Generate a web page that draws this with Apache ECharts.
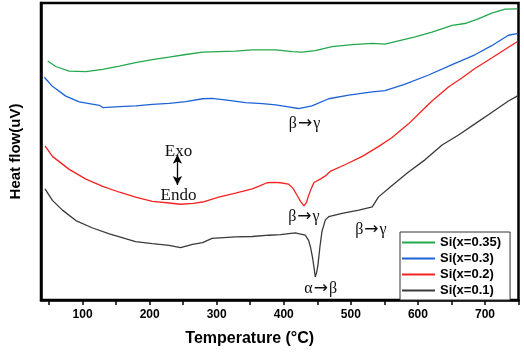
<!DOCTYPE html>
<html>
<head>
<meta charset="utf-8">
<script src="https://cdn.jsdelivr.net/npm/echarts@6/dist/echarts.min.js"></script>
<style>
html,body{margin:0;padding:0;background:#fff;}
#chart{width:524px;height:352px;}
</style>
</head>
<body>
<div id="chart"></div>
<script>
// Temperature (°C) and heat flow (arbitrary units)
var seriesNames = ['Si(x=0.35)', 'Si(x=0.3)', 'Si(x=0.2)', 'Si(x=0.1)'];

var tempSi035 = [48,60,80,105,130,155,179,204,229,254,279,303,328,353,378,388,413,427,447,472,502,532,551,571,596,621,651,670,690,710,730,748];
var heatSi035 = [244.7,239,234.3,233.7,236,239.3,243,246,248.7,251.3,253.7,254.3,254.7,256,256,256,254.3,253.7,255.3,259.3,261.3,262.7,262,265.3,269.3,274.3,281,283,287.7,293.7,297.7,298];

var tempSi03 = [43,55,75,95,125,130,155,179,204,229,254,279,293,318,343,368,388,407,422,442,467,497,532,551,581,616,651,685,710,735,748];
var heatSi03 = [228,218.7,208.7,202.7,199.3,197,198,198.7,200.3,201.3,203,206,206.3,204.3,202,201,199.7,197.7,196,198.7,206,209.7,213,214.3,221,230.3,241,251,260.3,271,272.7];

var tempSi02 = [44,55,80,105,130,155,179,204,229,246,265,279,303,328,353,365,375,385,395,407,414,420,425,430,434,437,441,445,455,462,470,492,517,541,561,586,601,621,646,665,685,710,735,748];
var heatSi02 = [157.7,147,133.7,123.7,116.3,110.3,105.3,101,99.3,98,99,100.3,105.3,109.3,113.7,117,120,120.5,120,118.7,114,107,101,96.3,100,107,114,120.3,124,127,132,138.7,147,157,166,180.3,190.3,203.7,218.2,227,237,247.7,258.7,264.3];

var tempSi01 = [44,55,70,90,115,140,164,179,204,229,246,264,279,293,328,353,378,395,417,432,437,440,443,445,447,449,451,454,457,462,467,487,512,532,541,561,586,611,636,660,685,710,735,748];
var heatSi01 = [113.7,102,92,81.3,73.7,67.7,62.7,59.7,57.7,56,53.7,57,58.7,63,64.7,65,66.3,67,68.7,66.3,61,53.7,43,33.7,23.7,28,36,55,70.3,82,85.3,88.7,92,95.3,105.3,117,131,143.7,158.7,168.7,180.3,192,203.7,208.7];

var xTickValues = [50,100,150,200,250,300,350,400,450,500,550,600,650,700,750];
var xLabelValues = [100,200,300,400,500,600,700];

// annotations: [from, to, temperature, heat flow]
var transitions = [
  ['β', 'γ', 431, 184.5],
  ['β', 'γ', 430, 89.5],
  ['β', 'γ', 530, 76.2],
  ['α', 'β', 455, 15.3]
];
var sideLabels = [
  ['Exo', 243, 156.2],
  ['Endo', 243, 111.2]
];
var exoEndoArrow = [[241.4, 148.7], [241.4, 117.7]];

var colors = ['#23a84e', '#1c63d6', '#f52222', '#3a3a3a'];
var temps = [tempSi035, tempSi03, tempSi02, tempSi01];
var heats = [heatSi035, heatSi03, heatSi02, heatSi01];

function pairs(t, h) { return t.map(function (v, i) { return [v, h[i]]; }); }

var series = seriesNames.map(function (name, i) {
  return {
    name: name,
    type: 'line',
    data: pairs(temps[i], heats[i]),
    showSymbol: false,
    symbol: 'none',
    smooth: false,
    lineStyle: { color: colors[i], width: 1.3 },
    itemStyle: { color: colors[i] },
    z: 2 + i
  };
});

var markData = transitions.map(function (a) {
  return {
    coord: [a[2], a[3]],
    value: 0,
    label: { formatter: '{g|' + a[0] + '}{r|→}{g|' + a[1] + '}' }
  };
}).concat(sideLabels.map(function (a) {
  return { coord: [a[1], a[2]], value: 0, label: { formatter: '{s|' + a[0] + '}' } };
}));

series.push({
  name: 'annot',
  type: 'line',
  data: [],
  markPoint: {
    symbol: 'rect',
    symbolSize: 1,
    itemStyle: { color: 'rgba(0,0,0,0)' },
    label: {
      show: true,
      position: 'inside',
      offset: [0, 4],
      color: '#111',
      rich: {
        g: { fontFamily: 'Liberation Serif', fontSize: 16, color: '#111' },
        r: { fontFamily: 'DejaVu Sans', fontSize: 17, color: '#111', padding: [0, 1, 0, 1] },
        s: { fontFamily: 'Liberation Serif', fontSize: 17, color: '#111' }
      }
    },
    data: markData
  },
  markLine: {
    silent: true,
    symbol: ['arrow', 'arrow'],
    symbolSize: [7, 9],
    lineStyle: { color: '#000', width: 1.3, type: 'solid' },
    label: { show: false },
    data: [[{ coord: exoEndoArrow[0] }, { coord: exoEndoArrow[1] }]]
  }
});

var chart = echarts.init(document.getElementById('chart'), null, { renderer: 'canvas' });
chart.setOption({
  animation: false,
  backgroundColor: '#fff',
  grid: { left: 40, right: 5.5, top: 3, bottom: 45, show: true, borderColor: '#000', borderWidth: 2.5, backgroundColor: 'transparent' },
  legend: {
    data: seriesNames,
    orient: 'vertical',
    left: 400,
    top: 232,
    padding: [4, 9, 3, 2],
    icon: 'rect',
    itemWidth: 33,
    itemHeight: 2,
    itemGap: 3,
    borderColor: '#333',
    borderWidth: 1,
    backgroundColor: '#fff',
    textStyle: { fontFamily: 'Arial, Liberation Sans', fontWeight: 'bold', fontSize: 13, color: '#000' }
  },
  xAxis: {
    type: 'value',
    min: 38,
    max: 750,
    name: 'Temperature (°C)',
    nameLocation: 'middle',
    nameGap: 31,
    nameTextStyle: { fontFamily: 'Arial, Liberation Sans', fontWeight: 'bold', fontSize: 16, color: '#000', padding: [0, 60, 0, 0] },
    axisLine: { show: true, lineStyle: { color: '#000', width: 2.5 } },
    axisTick: { show: true, length: 5, inside: false, customValues: xTickValues, lineStyle: { color: '#000', width: 1.5 } },
    axisLabel: { customValues: xLabelValues, margin: 9, fontFamily: 'Arial, Liberation Sans', fontWeight: 'bold', fontSize: 12, color: '#000' },
    splitLine: { show: false }
  },
  yAxis: {
    type: 'value',
    min: 0,
    max: 304,
    name: 'Heat flow(uV)',
    nameLocation: 'middle',
    nameGap: 18,
    nameTextStyle: { fontFamily: 'Arial, Liberation Sans', fontWeight: 'bold', fontSize: 15, color: '#000' },
    axisLine: { show: true, lineStyle: { color: '#000', width: 2.5 } },
    axisTick: { show: false },
    axisLabel: { show: false },
    splitLine: { show: false }
  },
  series: series
});
</script>
</body>
</html>
